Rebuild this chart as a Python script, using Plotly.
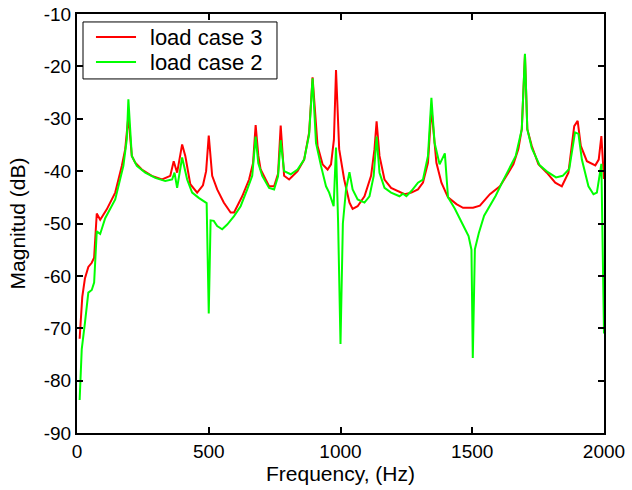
import plotly.graph_objects as go

# load case 3 (red) - frequency in Hz, magnitude in dB
freq_case3 = [10, 20, 30, 43, 56, 65, 75, 88, 113, 145, 170, 183, 195, 208, 221, 246, 284, 323,
              354, 367, 380, 399, 411, 430, 456, 478, 490, 500, 513, 532, 557, 583, 596, 627,
              653, 668, 678, 688, 697, 729, 748, 763, 773, 786, 805, 837, 862, 881, 894, 913,
              932, 951, 964, 975, 983, 995, 1014, 1034, 1046, 1065, 1091, 1116, 1129, 1137,
              1148, 1167, 1192, 1218, 1243, 1269, 1294, 1313, 1332, 1345, 1364, 1383, 1408,
              1440, 1465, 1503, 1529, 1567, 1605, 1630, 1656, 1675, 1688, 1700, 1709, 1726,
              1751, 1783, 1815, 1840, 1865, 1887, 1900, 1912, 1935, 1967, 1980, 1990, 2000]
mag_case3 = [-72, -64, -60.5, -58.3, -57.5, -56.5, -48.1, -49.3, -47.3, -44.1, -39, -35.8, -29.5,
             -37.1, -38.4, -39.7, -40.9, -41.6, -40.9, -38.1, -40.3, -34.9, -37.1, -42.5, -44.1,
             -42.7, -40, -33.2, -40.9, -43.5, -46, -47.9, -47.9, -44.8, -41.6, -38.5, -31.2,
             -37, -39.7, -42.9, -42.9, -40.5, -31.3, -40.9, -41.6, -40, -37.8, -32.6, -22.1,
             -35.2, -38.7, -39.7, -38.7, -34, -20.7, -35.8, -41.6, -46, -47.2, -46.7, -44.8,
             -40.9, -35.8, -30.5, -37.1, -41.6, -43.2, -43.8, -44.4, -44.1, -43.5, -42.2,
             -38.4, -28, -38.4, -42.2, -45, -46.3, -47, -47, -46.6, -44.4, -42.9, -40.9, -38.7,
             -35.8, -32, -17.8, -32, -35.2, -38.7, -40.3, -42.2, -42.9, -40.3, -31.4, -30.4,
             -35.2, -38.1, -38.9, -37.8, -33.3, -41.5]

# load case 2 (green)
freq_case2 = [10, 18, 30, 43, 56, 65, 75, 88, 107, 145, 176, 189, 195, 208, 227, 259, 297, 335,
              361, 370, 380, 399, 418, 437, 462, 488, 492, 500, 507, 519, 532, 551, 570, 596,
              621, 646, 665, 678, 688, 703, 729, 748, 763, 773, 786, 811, 837, 862, 881, 894,
              907, 926, 945, 957, 974, 983, 991, 1000, 1009, 1021, 1034, 1046, 1065, 1091,
              1110, 1126, 1137, 1148, 1167, 1192, 1224, 1237, 1250, 1269, 1294, 1313, 1332,
              1345, 1357, 1376, 1396, 1408, 1434, 1462, 1486, 1497, 1502, 1510, 1525, 1545,
              1567, 1589, 1614, 1640, 1665, 1688, 1700, 1709, 1726, 1756, 1787, 1818, 1843,
              1868, 1890, 1903, 1916, 1941, 1960, 1973, 1990, 2000]
mag_case2 = [-83.7, -74, -69, -63.2, -62.7, -61.3, -51.5, -52, -49, -45.4, -39, -33.9, -26.3,
             -37.1, -39, -40.3, -41.3, -41.9, -41.6, -40.3, -43.2, -37.4, -41.6, -44.1, -45.1,
             -46, -46.1, -67.2, -49.4, -49.5, -50.5, -51.1, -50.2, -48.6, -46.7, -43.5, -40.9,
             -33.4, -38.5, -40.9, -43.2, -43.5, -41, -34.1, -40, -40.6, -39.7, -37.8, -33,
             -22.3, -34.6, -39, -42.9, -44.1, -46.7, -35.5, -50, -73, -50, -43.5, -40.2, -43.5,
             -45.4, -46, -44.8, -40.9, -33.4, -40.3, -43.2, -44.1, -44.8, -44.3, -44.8, -43.8,
             -42.2, -41.6, -37.1, -26, -34.6, -38.7, -36.6, -45, -47.2, -50, -52.4, -55, -75.7,
             -54.9, -51.8, -48.5, -46.5, -44.7, -42.1, -39.6, -37.1, -32, -17.6, -32, -35.6,
             -38.9, -40.2, -41.2, -40.9, -39.6, -32.6, -32.9, -37.8, -42.9, -44.4, -44.1,
             -38.6, -71]

x_ticks = [0, 500, 1000, 1500, 2000]
x_labels = ["0", "500", "1000", "1500", "2000"]
y_ticks = [-90, -80, -70, -60, -50, -40, -30, -20, -10]
y_labels = ["-90", "-80", "-70", "-60", "-50", "-40", "-30", "-20", "-10"]

series = [("load case 3", freq_case3, mag_case3, "#ff0000"),
          ("load case 2", freq_case2, mag_case2, "#00ff00")]

fig = go.Figure()
for name, fx, fy, col in series:
    fig.add_trace(go.Scatter(x=fx, y=fy, mode="lines", name=name,
                             line=dict(color=col, width=2), showlegend=False))

axis_style = dict(showgrid=False, zeroline=False, showline=True, linecolor="black",
                  linewidth=2, mirror="ticks", ticks="inside", ticklen=6, tickwidth=1.5,
                  tickcolor="black", tickfont=dict(size=19, color="black"),
                  automargin=False, ticklabeloverflow="allow")

fig.update_xaxes(range=[0, 2000], tickvals=x_ticks, ticktext=x_labels,
                 title=dict(text="Frequency, (Hz)", font=dict(size=21), standoff=4),
                 **axis_style)
fig.update_yaxes(range=[-90, -10], tickvals=y_ticks, ticktext=y_labels,
                 title=dict(text="Magnitud (dB)", font=dict(size=21), standoff=12),
                 **axis_style)

# legend box drawn by hand so its compact, MATLAB-like spacing can be matched
fig.add_shape(type="rect", xref="paper", yref="paper", x0=0.0114, x1=0.3795,
              y0=0.845, y1=0.981, line=dict(color="black", width=1), fillcolor="white",
              layer="above")
row_y = [0.9451, 0.8854]
for (name, _, _, col), ry in zip(series, row_y):
    fig.add_shape(type="line", xref="paper", yref="paper", x0=0.036, x1=0.112,
                  y0=ry, y1=ry, line=dict(color=col, width=2), layer="above")
    fig.add_annotation(text=name, xref="paper", yref="paper", x=0.1347, y=ry,
                       xanchor="left", yanchor="middle", showarrow=False,
                       font=dict(size=22, color="black"))

fig.update_layout(
    width=632, height=490,
    margin=dict(l=77, r=28, t=14, b=57),
    plot_bgcolor="white", paper_bgcolor="white",
    font=dict(family="Liberation Sans, Arial, sans-serif", size=19, color="black"),
)

# drop the page's default 8px body margin so the figure sits at the window origin
fig.write_html("out.html", config={"displayModeBar": False},
               post_script="document.body.style.margin='0';")
